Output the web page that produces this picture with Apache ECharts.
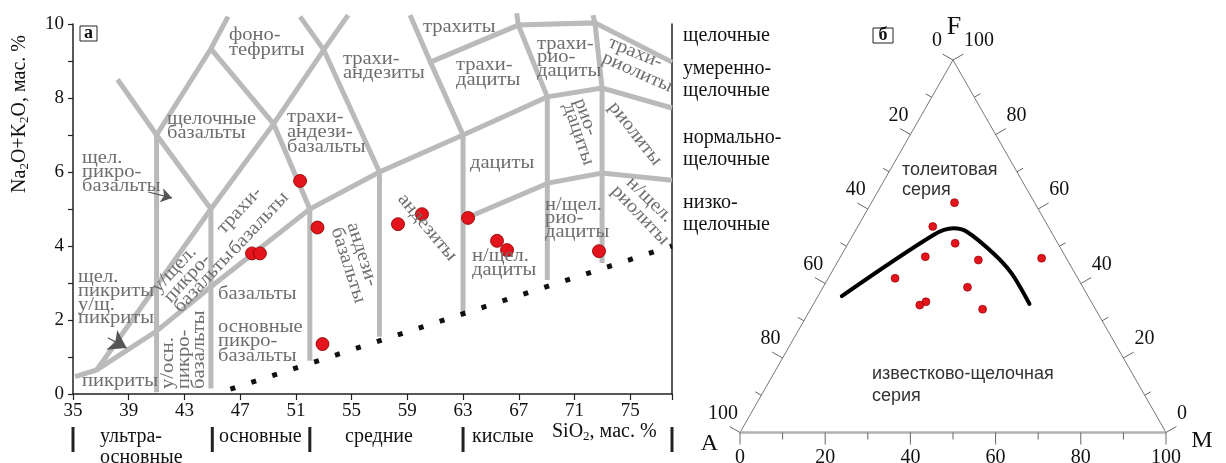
<!DOCTYPE html>
<html><head><meta charset="utf-8">
<script src="https://cdn.jsdelivr.net/npm/echarts@6/dist/echarts.min.js"></script>
<style>html,body{margin:0;padding:0;background:#fff}#c{width:1226px;height:463px}</style>
</head><body><div id="c"></div>
<script>
// ================= DATA =================
// TAS diagram (SiO2 vs Na2O+K2O, wt.%)
const xTickValues = [35,39,43,47,51,55,59,63,67,71,75];
const yTickValues = [0,2,4,6,8,10];
const silicaClassBounds = [35,45,52,63,78];
const tasBoundaries = [
  [[38.2,8.5],[41,7],[44.9,5]],
  [[41,7],[41,0.05]],
  [[41,7],[44.9,9.33],[46.13,10.2]],
  [[44.9,9.33],[49.4,7.3],[52,5]],
  [[44.9,5],[49.4,7.3],[53,9.3],[54.75,10.24]],
  [[51.3,10.2],[53,9.3],[57,6]],
  [[36.7,0.65],[44.9,5]],
  [[35.15,0.47],[36.7,0.65],[41,1.7],[44.9,2.9],[52,5],[57,6],[63,7],[69.05,8.03],[72.98,8.27],[78,7.73]],
  [[44.9,5],[44.9,0.15]],
  [[52,5],[52,0.9]],
  [[57,6],[57,1.55]],
  [[59.2,10.24],[60.65,8.97],[63,7],[63,2.2]],
  [[60.65,8.97],[66.97,9.97],[72.47,10.03],[78,8.97]],
  [[66.85,10.29],[66.97,9.97],[69.05,8.03],[69.05,3.08]],
  [[72.33,10.24],[72.47,10.03],[72.98,8.27],[72.98,3.54]],
  [[63.2,4.75],[69.1,5.7],[72.98,5.97],[78,5.78]]
];
const tasSamples = [[51.3,5.76],[52.55,4.5],[47.85,3.8],[48.42,3.8],[52.91,1.35],[58.33,4.59],[60.05,4.86],[63.36,4.76],[65.44,4.14],[66.16,3.89],[72.76,3.86]];
const tasDivider = [[46.3,0.13],[78,4.0]];
const tasArrowsSmall = [[[40.4,5.46],[42.11,5.3]]];
const tasArrowsBig = [[[37.5,1.52],[38.85,1.24]]];

// AFM ternary (values in %, [F, M]; A = 100 - F - M)
const afmTickValues = [0,10,20,30,40,50,60,70,80,90,100];
const afmSamples = [[61.7,19.5],[55.3,17.6],[50.8,25.1],[47.2,19.9],[46.3,32.8],[46.8,47.4],[41.4,15.7],[39.0,33.9],[35.1,26.1],[34.2,25.1],[33.1,40.4]];
const afmDivider = [[36.6,5.6],[53.0,18.9],[54.8,22.7],[53.9,26.3],[48.1,35.4],[42.7,42.4],[34.5,50.7]];

// ================= HELPERS =================
const SERIF = '"Liberation Serif", "Times New Roman", serif';
const SANS = '"Liberation Sans", Arial, sans-serif';
const toXY = (fm) => [fm[1]/100 + fm[0]/200, fm[0]/100];

function txt(text, x, y, o) {
  o = o || {};
  const al = o.align || 'left', va = o.va || 'middle';
  return {type:'text', x:x, y:y, rotation:(o.rot||0)*Math.PI/180, scaleX:o.sx||1, silent:true, z:50,
    style:{text:text, fill:o.color||'#6e6e6e', fontSize:o.size||20, fontFamily:o.font||SERIF,
      fontWeight:o.weight||'normal', align:al, verticalAlign:va, textAlign:al, textVerticalAlign:va,
      rich:o.rich}};
}
function block(lines, x, y0, lh, o) {
  return lines.map((t,i)=>txt(t, x, y0 + i*lh, o));
}
const G = '#6e6e6e', K = '#111';
const gs = {color:G, sx:1.08, size:19};

const graphics = [].concat(
  // TAS field names (horizontal)
  block(['фоно-','тефриты'], 229, 35, 15, gs),
  block(['щелочные','базальты'], 167, 119, 14, gs),
  block(['трахи-','андези-','базальты'], 287, 117, 15, gs),
  block(['щел.','пикро-','базальты'], 82, 158, 14, gs),
  block(['трахиты'], 423, 27, 14, gs),
  block(['трахи-','андезиты'], 343, 59, 14, gs),
  block(['трахи-','дациты'], 456, 65, 15, gs),
  block(['трахи-','рио-','дациты'], 537, 44, 13.5, gs),
  block(['дациты'], 470, 163, 14, gs),
  block(['н/щел.','рио-','дациты'], 545, 205, 13.5, gs),
  block(['н/щел.','дациты'], 472, 256, 14, gs),
  block(['базальты'], 218, 294, 14, gs),
  block(['основные','пикро-','базальты'], 218, 327, 14.5, gs),
  block(['пикриты'], 82, 381, 14, gs),
  block(['щел.','пикриты','у/щ.','пикриты'], 78, 277, 13.8, gs),
  // rotated
  [txt('у/щел.',155,290,Object.assign({rot:47},gs)),
   txt('пикро-',167,300,Object.assign({rot:47},gs)),
   txt('базальты',177,310,Object.assign({rot:47},gs)),
   txt('трахи-',220,231,Object.assign({rot:47},gs)),
   txt('базальты',232,252,Object.assign({rot:47},gs)),
   txt('андези-',352,223,Object.assign({rot:-72},gs)),
   txt('базальты',336,228,Object.assign({rot:-72},gs)),
   txt('андезиты',401,196,Object.assign({rot:-50},gs)),
   txt('рио-',579,99,Object.assign({rot:-70},gs)),
   txt('дациты',568,104,Object.assign({rot:-71},gs)),
   txt('риолиты',612,104,Object.assign({rot:-52},gs)),
   txt('трахи-',609,42,Object.assign({rot:-22},gs)),
   txt('риолиты',603,57,Object.assign({rot:-24},gs)),
   txt('н/щел.',629,180,Object.assign({rot:-44},gs)),
   txt('риолиты',614,188,Object.assign({rot:-46},gs)),
   txt('у/осн.',168,389,Object.assign({rot:90},gs)),
   txt('пикро-',184,389,Object.assign({rot:90},gs)),
   txt('базальты',199,389,Object.assign({rot:90},gs))],
  // alkalinity series (right of TAS)
  block(['щелочные'], 683, 36, 22, {color:K}),
  block(['умеренно-','щелочные'], 683, 69, 22, {color:K}),
  block(['нормально-','щелочные'], 683, 138, 22, {color:K}),
  block(['низко-','щелочные'], 683, 203, 22, {color:K}),
  // silica classes
  block(['ультра-','основные'], 100, 437, 21, {color:K}),
  [txt('основные',219,437,{color:K}), txt('средние',345,437,{color:K}), txt('кислые',472,437,{color:K}),
   txt('{a|SiO}{s|2}{a|, мас. %}',552,432,{color:K, rich:{a:{fontSize:20,fontFamily:SERIF,fill:K,lineHeight:22},s:{fontSize:13,fontFamily:SERIF,fill:K,lineHeight:10,verticalAlign:'bottom'}}}),
   txt('{a|Na}{s|2}{a|O+K}{s|2}{a|O, мас. %}',20,114,{color:K, rot:90, align:'center', rich:{a:{fontSize:20,fontFamily:SERIF,fill:K,lineHeight:22},s:{fontSize:13,fontFamily:SERIF,fill:K,lineHeight:10,verticalAlign:'bottom'}}})],
  // panel letters
  [{type:'rect', shape:{x:80,y:26,width:17,height:15}, style:{fill:'none',stroke:'#222',lineWidth:1}, silent:true},
   txt('а',88.5,33,{color:K,weight:'bold',align:'center',size:18}),
   {type:'rect', shape:{x:873,y:28,width:20,height:15}, style:{fill:'none',stroke:'#222',lineWidth:1}, silent:true},
   txt('б',883,35.5,{color:K,weight:'bold',align:'center',size:18}),
   txt('F',954,27,{color:K,align:'center',size:26}),
   txt('A',709.5,444,{color:K,align:'center',size:24}),
   txt('M',1202,441,{color:K,align:'center',size:24}),
   txt('толеитовая',902,170,{color:'#333',font:SANS,size:18}),
   txt('серия',902,190,{color:'#333',font:SANS,size:18}),
   txt('известково-щелочная',872,374,{color:'#333',font:SANS,size:18}),
   txt('серия',872,396,{color:'#333',font:SANS,size:18})]
);

// ================= CHART =================
const chart = echarts.init(document.getElementById('c'), null, {renderer:'canvas'});
const axisLabelStyle = {fontFamily:SERIF, fontSize:19, color:K};

const series = [];
tasBoundaries.forEach(pl => series.push({type:'line', xAxisIndex:0, yAxisIndex:0, data:pl, symbol:'none', silent:true, clip:false, z:2,
  lineStyle:{color:'#bababa', width:5, cap:'butt', join:'miter'}}));
series.push({type:'line', xAxisIndex:0, yAxisIndex:0, data:tasDivider, symbol:'none', silent:true, clip:false, z:3,
  lineStyle:{color:'#111', width:5, type:[5,17], cap:'butt'}});
series.push({type:'lines', coordinateSystem:'cartesian2d', xAxisIndex:0, yAxisIndex:0, silent:true, z:4,
  symbol:['none','arrow'], symbolSize:11, lineStyle:{color:'#555', width:1.2, opacity:1},
  data:tasArrowsSmall.map(c=>({coords:c}))});
series.push({type:'lines', coordinateSystem:'cartesian2d', xAxisIndex:0, yAxisIndex:0, silent:true, z:4,
  symbol:['none','arrow'], symbolSize:17, lineStyle:{color:'#555', width:1.2, opacity:1},
  data:tasArrowsBig.map(c=>({coords:c}))});
series.push({type:'scatter', xAxisIndex:0, yAxisIndex:0, data:tasSamples, symbol:'circle', symbolSize:13, z:10, silent:true,
  itemStyle:{color:'#e3141b', borderColor:'#8a0000', borderWidth:0.8, opacity:1}});
// silica class separators below the x axis
series.push({type:'custom', xAxisIndex:0, yAxisIndex:0, data:silicaClassBounds.map(v=>[v,0]), silent:true, clip:false, z:5,
  renderItem:function(params, api){
    const p = api.coord([api.value(0), 0]);
    return {type:'rect', shape:{x:p[0]-1.5, y:p[1]+33, width:3, height:25}, style:{fill:'#222'}};
  }});

// Ternary frame
series.push({type:'line', xAxisIndex:1, yAxisIndex:2, data:[toXY([0,0]),toXY([100,0]),toXY([0,100])],
  symbol:'none', silent:true, clip:false, lineStyle:{color:'#777', width:1}});
series.push({type:'line', xAxisIndex:1, yAxisIndex:2, data:[toXY([0,0]),toXY([0,100])],
  symbol:'none', silent:true, clip:false, z:3, lineStyle:{color:'#b0b0b0', width:2.5}});
const tickData = [];
[0,1,2].forEach(e => afmTickValues.forEach(v => tickData.push([e, v])));
series.push({type:'custom', xAxisIndex:1, yAxisIndex:2, data:tickData, silent:true, clip:false, z:4,
  encode:{x:-1, y:-1},
  renderItem:function(params, api){
    const e = api.value(0), v = api.value(1);
    let fm;
    if (e===0) fm=[0, v];            // bottom: M
    else if (e===1) fm=[100-v, 0];   // left: A
    else fm=[v, 100-v];              // right: F
    const p = api.coord(toXY(fm));
    const pA = api.coord(toXY([0,0])), pF = api.coord(toXY([100,0]));
    const dx = pF[0]-pA[0], dy = pF[1]-pA[1], L = Math.hypot(dx,dy);
    let n;
    if (e===0) n=[0,1];
    else if (e===1) n=[dy/L, -dx/L];
    else n=[-dy/L, -dx/L];
    const major = v % 20 === 0;
    const len = major ? 12 : 7;
    const children = [{type:'line', shape:{x1:p[0],y1:p[1],x2:p[0]+n[0]*len,y2:p[1]+n[1]*len}, style:{stroke:'#666', lineWidth:1}}];
    if (major) {
      let tx, ty, al;
      if (e===0) { tx=p[0]; ty=p[1]+25; al='center'; }
      else if (e===1) { tx=p[0]-(v===0?11:2); ty=p[1]-19; al='right'; }
      else { tx=p[0]+11; ty=p[1]-19; al='left'; }
      children.push({type:'text', x:tx, y:ty, style:{text:String(v), fill:K, fontSize:20, fontFamily:SERIF,
        align:al, verticalAlign:'middle', textAlign:al, textVerticalAlign:'middle'}});
    }
    return {type:'group', children:children};
  }});
series.push({type:'line', xAxisIndex:1, yAxisIndex:2, data:afmDivider.map(toXY), symbol:'none', smooth:0.3, silent:true, clip:false, z:5,
  lineStyle:{color:'#000', width:4, cap:'round'}});
series.push({type:'scatter', xAxisIndex:1, yAxisIndex:2, data:afmSamples.map(toXY), symbol:'circle', symbolSize:8, silent:true, z:6,
  itemStyle:{color:'#e3141b', borderColor:'#8a0000', borderWidth:0.6, opacity:1}});

chart.setOption({
  backgroundColor:'#fff',
  animation:false,
  grid:[
    {left:73, top:24, width:599, height:370, containLabel:false, outerBoundsMode:'none'},
    {left:740, top:60, width:426, height:372.5, containLabel:false, outerBoundsMode:'none'}
  ],
  xAxis:[
    {type:'value', gridIndex:0, min:35, max:78,
      axisLine:{show:true, onZero:false, lineStyle:{color:'#222', width:1.5}},
      axisTick:{show:true, inside:false, length:6, customValues:xTickValues.concat([78]), lineStyle:{color:'#222', width:1.2}},
      axisLabel:{show:true, customValues:xTickValues, margin:8, ...axisLabelStyle},
      splitLine:{show:false}},
    {type:'value', gridIndex:1, min:0, max:1, show:false}
  ],
  yAxis:[
    {type:'value', gridIndex:0, min:0, max:10, interval:1,
      axisLine:{show:true, onZero:false, lineStyle:{color:'#222', width:1.5}},
      axisTick:{show:true, inside:false, length:5, lineStyle:{color:'#222', width:1.2}},
      axisLabel:{show:true, customValues:yTickValues, margin:9, ...axisLabelStyle},
      splitLine:{show:false}},
    {type:'value', gridIndex:0, min:0, max:10, position:'right',
      axisLine:{show:true, onZero:false, lineStyle:{color:'#222', width:1.5}},
      axisTick:{show:false}, axisLabel:{show:false}, splitLine:{show:false}},
    {type:'value', gridIndex:1, min:0, max:1, show:false}
  ],
  graphic:{elements:graphics},
  series:series
});
</script></body></html>
